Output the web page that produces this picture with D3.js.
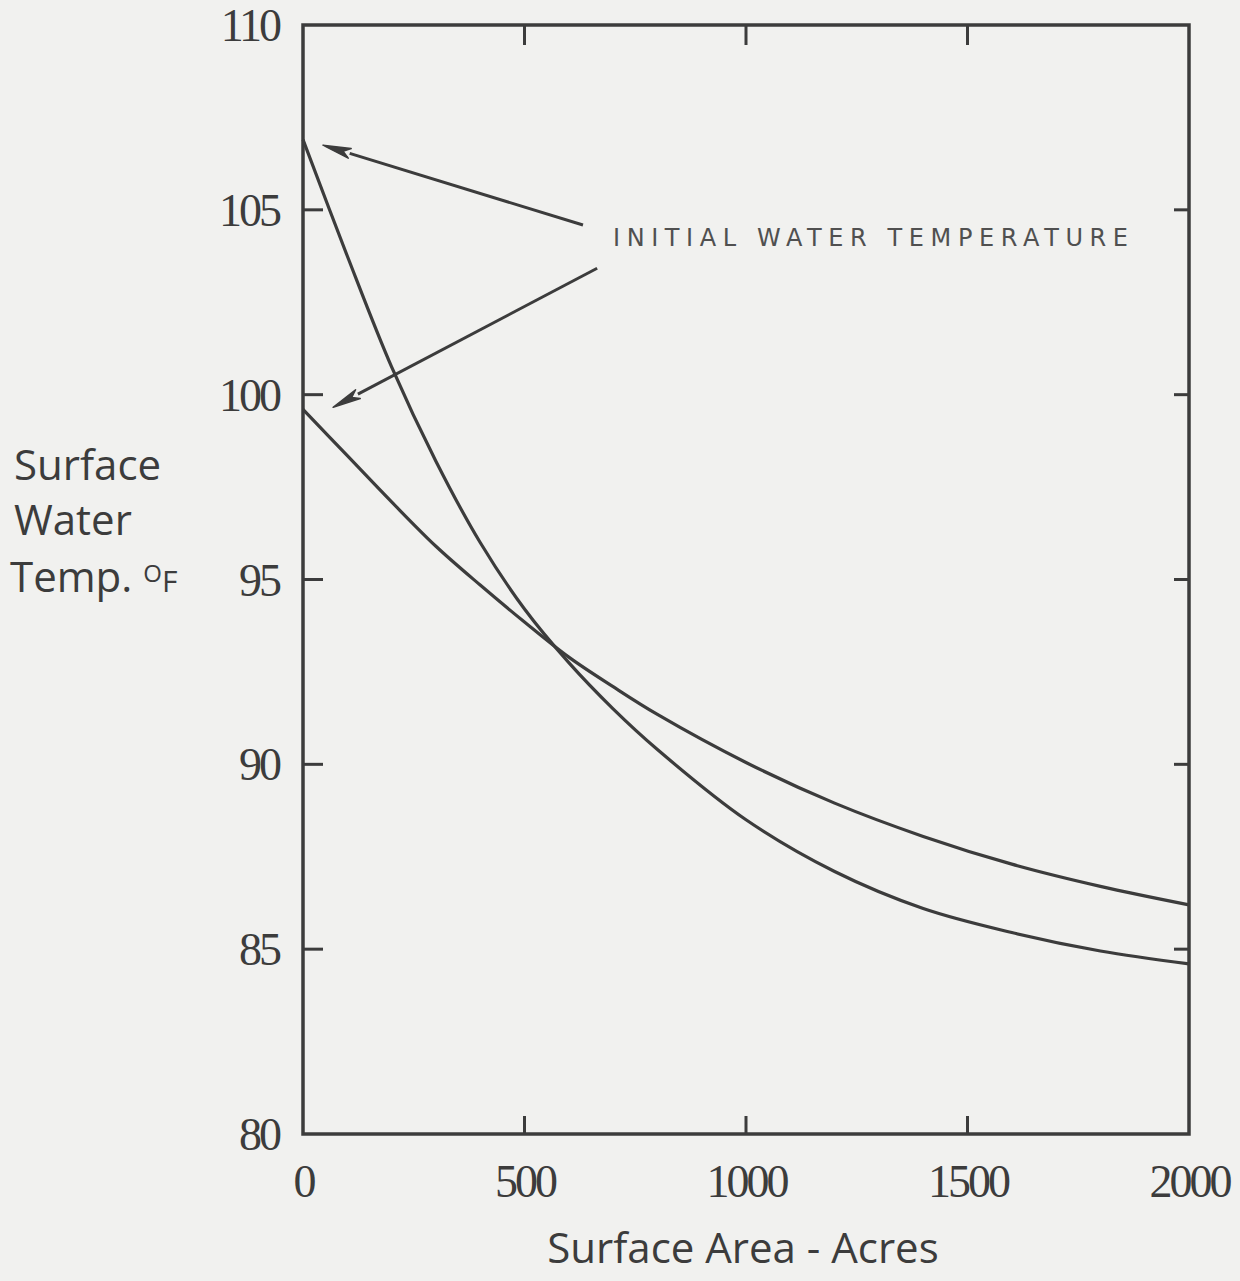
<!DOCTYPE html>
<html>
<head>
<meta charset="utf-8">
<script src="https://cdn.jsdelivr.net/npm/d3@7/dist/d3.min.js"></script>
<style>
  html, body { margin: 0; padding: 0; background: #f1f1ef; }
  svg { display: block; }
</style>
</head>
<body>
<svg id="chart" width="1240" height="1281"></svg>
<script>
// ---- data ----
const areaAcres = [0, 100, 200, 300, 400, 500, 600, 700, 800, 1000, 1200, 1400, 1600, 1800, 2000];
const tempHighStart = [106.9, 103.75, 100.75, 98.2, 96.0, 94.2, 92.75, 91.5, 90.4, 88.5, 87.1, 86.1, 85.45, 84.95, 84.6];
const tempLowStart  = [99.6, 98.35, 97.1, 95.9, 94.85, 93.85, 92.9, 92.1, 91.35, 90.05, 88.95, 88.05, 87.3, 86.7, 86.2];
const xTicks = [0, 500, 1000, 1500, 2000];
const yTicks = [80, 85, 90, 95, 100, 105, 110];
const annotationText = "INITIAL WATER TEMPERATURE";
// arrows: [tailX, tailY, tipX, tipY] in data units
const arrows = [
  [632, 104.59, 45, 106.75],
  [664, 103.42, 68, 99.66]
];

const ink = "#3c3c3c";
const svg = d3.select("#chart");

const x = d3.scaleLinear().domain([0, 2000]).range([303, 1189]);
const y = d3.scaleLinear().domain([80, 110]).range([1134, 25]);

// frame
svg.append("rect")
  .attr("x", x(0)).attr("y", y(110))
  .attr("width", x(2000) - x(0)).attr("height", y(80) - y(110))
  .attr("fill", "none").attr("stroke", ink).attr("stroke-width", 3.5);

// inward ticks
const innerX = xTicks.filter(d => d > 0 && d < 2000);
const innerY = yTicks.filter(d => d > 80 && d < 110);
const tickG = svg.append("g").attr("stroke", ink).attr("stroke-width", 3);
innerX.forEach(d => {
  tickG.append("line").attr("x1", x(d)).attr("x2", x(d)).attr("y1", y(80)).attr("y2", y(80) - 18);
  tickG.append("line").attr("x1", x(d)).attr("x2", x(d)).attr("y1", y(110)).attr("y2", y(110) + 20);
});
innerY.forEach(d => {
  tickG.append("line").attr("x1", x(0)).attr("x2", x(0) + 20).attr("y1", y(d)).attr("y2", y(d));
  tickG.append("line").attr("x1", x(2000)).attr("x2", x(2000) - 15).attr("y1", y(d)).attr("y2", y(d));
});

// tick labels (via d3 axes, lines hidden)
const labelFont = "'Liberation Serif', 'DejaVu Serif', serif";
const xAxis = svg.append("g")
  .attr("transform", `translate(0,${y(80)})`)
  .call(d3.axisBottom(x).tickValues(xTicks).tickSize(0).tickPadding(30).tickFormat(d3.format("d")));
xAxis.select(".domain").remove();
xAxis.selectAll("text")
  .attr("font-family", labelFont).attr("font-size", 46).attr("letter-spacing", -3)
  .attr("fill", ink).attr("dy", "0.71em").attr("y", 30);

const yAxis = svg.append("g")
  .attr("transform", `translate(${x(0)},0)`)
  .call(d3.axisLeft(y).tickValues(yTicks).tickSize(0).tickPadding(24).tickFormat(d3.format("d")));
yAxis.select(".domain").remove();
yAxis.selectAll("text")
  .attr("font-family", labelFont).attr("font-size", 46).attr("letter-spacing", -3)
  .attr("fill", ink).attr("dy", "0.34em");

// curves
const line = d3.line()
  .x((d, i) => x(areaAcres[i]))
  .y(d => y(d))
  .curve(d3.curveCatmullRom.alpha(0.5));
[tempHighStart, tempLowStart].forEach(series => {
  svg.append("path").attr("d", line(series))
    .attr("fill", "none").attr("stroke", ink).attr("stroke-width", 3.2)
    .attr("stroke-linejoin", "round");
});

// arrows
arrows.forEach(a => {
  const x1 = x(a[0]), y1 = y(a[1]), x2 = x(a[2]), y2 = y(a[3]);
  const ang = Math.atan2(y2 - y1, x2 - x1);
  const L = 28, W = 5;
  const bx = x2 - L * Math.cos(ang), by = y2 - L * Math.sin(ang);
  svg.append("line").attr("x1", x1).attr("y1", y1).attr("x2", bx).attr("y2", by)
    .attr("stroke", ink).attr("stroke-width", 3);
  const px = -Math.sin(ang) * W, py = Math.cos(ang) * W;
  svg.append("path")
    .attr("d", `M${x2},${y2}L${bx + px},${by + py}L${bx + L * 0.25 * Math.cos(ang)},${by + L * 0.25 * Math.sin(ang)}L${bx - px},${by - py}Z`)
    .attr("fill", ink).attr("stroke", ink).attr("stroke-width", 1.5).attr("stroke-linejoin", "round");
});

// annotation text
svg.append("text")
  .attr("x", 613).attr("y", 246)
  .attr("font-family", "'DejaVu Sans', sans-serif").attr("font-size", 24)
  .attr("textLength", 515).attr("lengthAdjust", "spacing")
  .attr("fill", "#505050").text(annotationText);

// axis titles
const titleFont = "'Open Sans', 'Noto Sans', sans-serif";
const yTitle = svg.append("g").attr("font-family", titleFont).attr("font-size", 42).attr("fill", ink);
yTitle.append("text").attr("x", 14).attr("y", 480).text("Surface");
yTitle.append("text").attr("x", 14).attr("y", 535).text("Water");
const t3 = yTitle.append("text").attr("x", 10).attr("y", 592);
t3.append("tspan").text("Temp. ");
t3.append("tspan").attr("font-size", 24).attr("dy", -10).text("O");
t3.append("tspan").attr("font-size", 30).attr("dy", 10).text("F");

svg.append("text")
  .attr("x", 743).attr("y", 1263).attr("text-anchor", "middle")
  .attr("font-family", titleFont).attr("font-size", 42).attr("fill", ink)
  .text("Surface Area - Acres");
</script>
</body>
</html>
